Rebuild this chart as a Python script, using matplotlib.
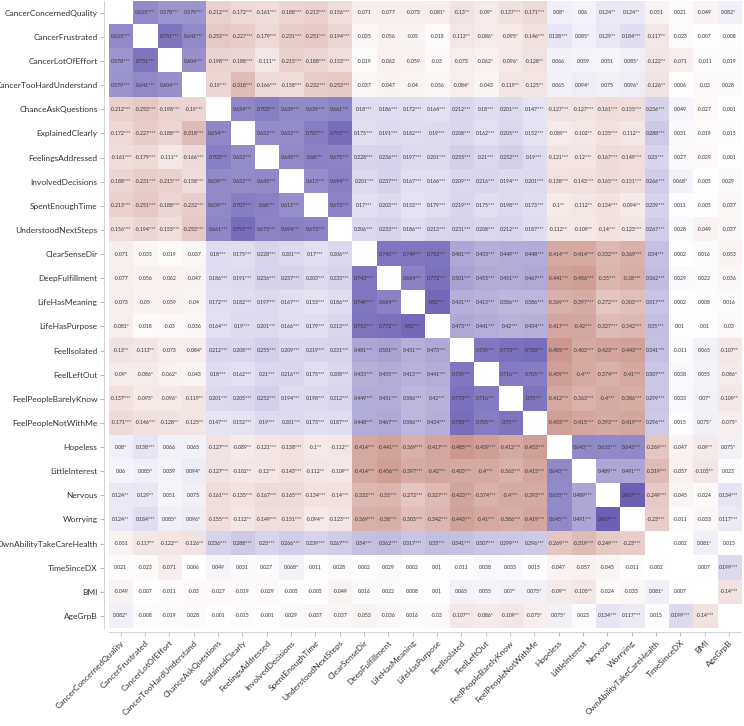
import numpy as np
import matplotlib
matplotlib.use("Agg")
import matplotlib.pyplot as plt
from matplotlib.colors import LinearSegmentedColormap

plt.rcParams['font.family'] = ['Lato', 'DejaVu Sans']

# 変数名
variables = ['CancerConcernedQuality', 'CancerFrustrated', 'CancerLotOfEffort', 'CancerTooHardUnderstand',
             'ChanceAskQuestions', 'ExplainedClearly', 'FeelingsAddressed', 'InvolvedDecisions',
             'SpentEnoughTime', 'UnderstoodNextSteps', 'ClearSenseDir', 'DeepFulfillment',
             'LifeHasMeaning', 'LifeHasPurpose', 'FeelIsolated', 'FeelLeftOut',
             'FeelPeopleBarelyKnow', 'FeelPeopleNotWithMe', 'Hopeless', 'LittleInterest',
             'Nervous', 'Worrying', 'OwnAbilityTakeCareHealth', 'TimeSinceDX', 'BMI', 'AgeGrpB']

# 相関係数（下三角、有意水準の星つき）
lower = [
    [],
    ["0.635***"],
    ["0.578***", "0.751***"],
    ["0.579***", "0.641***", "0.604***"],
    ["-0.212***", "-0.253***", "-0.198***", "-0.19***"],
    ["-0.172***", "-0.227***", "-0.188***", "-0.318***", "0.654***"],
    ["-0.161***", "-0.179***", "-0.111**", "-0.166***", "0.703***", "0.632***"],
    ["-0.188***", "-0.231***", "-0.215***", "-0.158***", "0.639***", "0.632***", "0.643***"],
    ["-0.213***", "-0.251***", "-0.188***", "-0.232***", "0.639***", "0.707***", "0.68***", "0.613***"],
    ["-0.156***", "-0.194***", "-0.153***", "-0.253***", "0.661***", "0.793***", "0.675***", "0.694***", "0.673***"],
    ["-0.071", "-0.035", "-0.019", "-0.037", "0.18***", "0.175***", "0.228***", "0.201***", "0.17***", "0.206***"],
    ["-0.077", "-0.056", "-0.062", "-0.047", "0.186***", "0.191***", "0.236***", "0.237***", "0.203***", "0.233***",
     "0.743***"],
    ["-0.073", "-0.05", "-0.059", "-0.04", "0.172***", "0.182***", "0.197***", "0.167***", "0.153***", "0.186***",
     "0.749***", "0.684***"],
    ["-0.081*", "-0.018", "-0.03", "-0.036", "0.164***", "0.19***", "0.201***", "0.166***", "0.179***", "0.213***",
     "0.753***", "0.772***", "0.82***"],
    ["-0.13**", "-0.113**", "-0.073", "-0.084*", "0.212***", "0.208***", "0.255***", "0.209***", "0.219***", "0.231***",
     "0.481***", "0.501***", "0.431***", "0.473***"],
    ["-0.09*", "-0.086*", "-0.062*", "-0.043", "0.18***", "0.162***", "0.21***", "0.216***", "0.175***", "0.208***",
     "0.433***", "0.455***", "0.413***", "0.441***", "0.739***"],
    ["-0.137***", "-0.095*", "-0.096*", "-0.119**", "0.201***", "0.205***", "0.252***", "0.194***", "0.198***",
     "0.212***", "0.449***", "0.451***", "0.386***", "0.42***", "0.773***", "0.716***"],
    ["-0.171***", "-0.146***", "-0.128**", "-0.125**", "0.147***", "0.152***", "0.19***", "0.201***", "0.173***",
     "0.187***", "0.448***", "0.467***", "0.386***", "0.434***", "0.788***", "0.705***", "0.75***"],
    ["0.08*", "0.138***", "0.066", "0.065", "-0.127***", "-0.089**", "-0.121***", "-0.138***", "-0.1**", "-0.112**",
     "-0.414***", "-0.441***", "-0.369***", "-0.417***", "-0.485***", "-0.459***", "-0.412***", "-0.453***"],
    ["0.06", "0.085*", "0.059", "0.094*", "-0.127***", "-0.102**", "-0.12***", "-0.143***", "-0.112**", "-0.109**",
     "-0.414***", "-0.456***", "-0.397***", "-0.42***", "-0.403***", "-0.4***", "-0.363***", "-0.415***", "0.643***"],
    ["0.124**", "0.129**", "0.051", "0.075", "-0.161***", "-0.135***", "-0.167***", "-0.165***", "-0.134***",
     "-0.14***", "-0.332***", "-0.35***", "-0.272***", "-0.327***", "-0.423***", "-0.374***", "-0.4***", "-0.393***",
     "0.633***", "0.489***"],
    ["0.124**", "0.184***", "0.085*", "0.096*", "-0.155***", "-0.112**", "-0.149***", "-0.151***", "-0.094**",
     "-0.123***", "-0.369***", "-0.38***", "-0.303***", "-0.342***", "-0.443***", "-0.41***", "-0.386***", "-0.419***",
     "0.645***", "0.491***", "0.867***"],
    ["-0.051", "-0.117**", "-0.122**", "-0.126**", "0.236***", "0.288***", "0.23***", "0.266***", "0.239***",
     "0.267***", "0.34***", "0.362***", "0.317***", "0.35***", "0.341***", "0.307***", "0.299***", "0.296***",
     "-0.269***", "-0.319***", "-0.249***", "-0.23***"],
    ["0.021", "-0.023", "-0.071", "0.006", "0.049", "0.031", "0.027", "0.068*", "0.011", "0.028", "0.002", "0.029",
     "0.002", "0.01", "-0.011", "0.038", "0.033", "0.015", "-0.047", "-0.057", "-0.045", "-0.011", "-0.002"],
    ["-0.049", "-0.007", "-0.011", "-0.03", "-0.027", "-0.019", "-0.029", "-0.005", "-0.005", "-0.049", "0.016",
     "0.022", "0.008", "0.01", "0.065", "0.055", "0.07*", "0.075*", "-0.09**", "-0.105**", "-0.024", "-0.033",
     "0.081*", "0.007"],
    ["0.082*", "-0.008", "-0.019", "0.028", "-0.001", "-0.015", "-0.001", "0.029", "-0.037", "-0.037", "-0.053",
     "-0.036", "0.016", "-0.03", "-0.107**", "-0.086*", "-0.109**", "-0.075*", "0.075*", "0.023", "0.134***",
     "0.117***", "0.015", "0.199***", "-0.14***"],
]

# 対称行列を組み立てる
n = len(variables)
values = np.full((n, n), np.nan)
texts = [["" for _ in range(n)] for _ in range(n)]
for i, row in enumerate(lower):
    for j, s in enumerate(row):
        v = float(s.rstrip('*'))
        values[i, j] = v
        values[j, i] = v
        texts[i][j] = s
        texts[j][i] = s

cmap = LinearSegmentedColormap.from_list('rb', ['#9a2c1c', '#ffffff', '#5648aa'])
cmap.set_bad('white')

fig = plt.figure(figsize=(7.44, 7.26), dpi=100)
ax = fig.add_axes([0.146, 0.135, 0.85, 0.864])

# スパインの位置を先に決める（後で決めると目盛りがリセットされる）
for side in ['top', 'right']:
    ax.spines[side].set_visible(False)
for side in ['left', 'bottom']:
    ax.spines[side].set_color('#cccccc')
    ax.spines[side].set_linewidth(0.6)
    ax.spines[side].set_position(('outward', 3))

ax.imshow(np.ma.masked_invalid(values), cmap=cmap, vmin=-1, vmax=1, aspect='auto',
          interpolation='nearest')

for i in range(n):
    for j in range(n):
        if texts[i][j]:
            ax.text(j, i, texts[i][j], ha='center', va='center', fontsize=3.7, color='#333333')

ax.tick_params(length=3, width=0.6, color='#aaaaaa', pad=2, labelsize=6.0, labelcolor='#333333')
ax.set_xticks(range(n))
ax.set_yticks(range(n))
ax.set_xticklabels(variables, rotation=45, ha='right', rotation_mode='anchor')
ax.set_yticklabels(variables)

plt.savefig('out.png', dpi=100)
print('save out.png')
